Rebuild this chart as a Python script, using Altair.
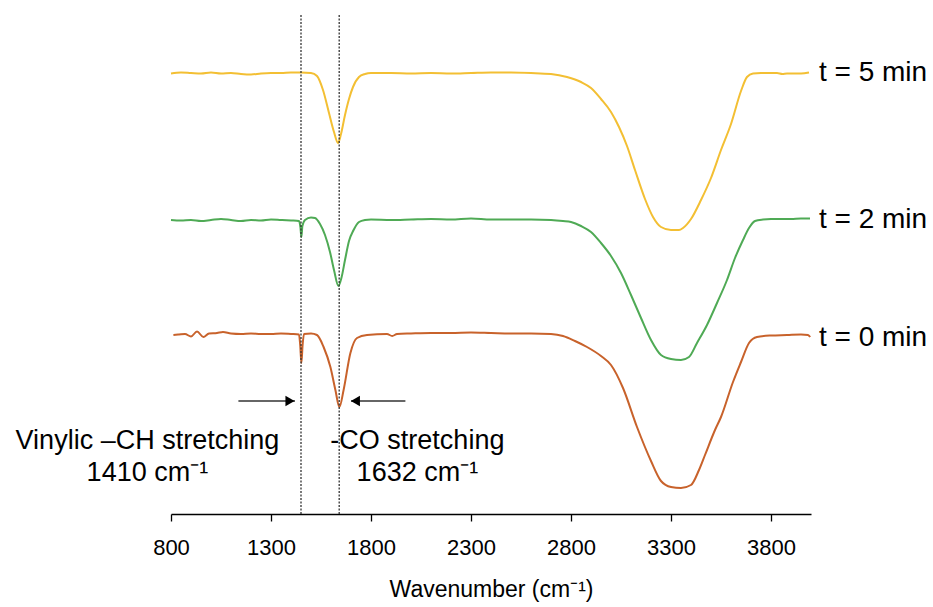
import altair as alt
import pandas as pd

# ---- data ----
wn_5 = [800, 850, 900, 950, 1000, 1050, 1100, 1150, 1200, 1250, 1300, 1350, 1400, 1450, 1500,
        1530, 1560, 1590, 1615, 1635, 1650, 1670, 1690, 1710, 1740, 1770, 1800, 1900, 2000, 2100,
        2200, 2300, 2400, 2500, 2600, 2700, 2780, 2850, 2900, 2950, 3000, 3040, 3080, 3120, 3170,
        3210, 3250, 3300, 3340, 3360, 3400, 3450, 3500, 3550, 3600, 3650, 3680, 3710, 3750, 3800,
        3830, 3857, 3880, 3950, 3990]
tr_5 = [88.1, 88.3, 88.2, 88.1, 88.3, 88.1, 88.2, 88.0, 87.9, 88.1, 88.2, 88.2, 88.3, 88.3, 88.2,
        87.6, 84.8, 80.2, 76.4, 74.2, 76.0, 79.8, 83.0, 85.4, 87.4, 88.0, 88.2, 88.2, 88.1, 88.2,
        88.1, 88.2, 88.3, 88.3, 88.2, 88.0, 87.4, 86.4, 85.2, 83.0, 80.4, 77.4, 73.6, 68.8, 63.0,
        59.4, 57.4, 56.8, 56.8, 57.2, 59.0, 62.8, 67.2, 72.8, 78.0, 84.6, 87.4, 88.1, 88.2, 88.2,
        88.2, 88.0, 88.1, 88.1, 88.3]

wn_2 = [800, 850, 900, 950, 1000, 1050, 1100, 1150, 1200, 1250, 1300, 1350, 1400, 1440, 1447,
        1452, 1457, 1470, 1500, 1520, 1545, 1570, 1595, 1615, 1637, 1652, 1670, 1690, 1713, 1740,
        1770, 1800, 1900, 2000, 2100, 2200, 2300, 2400, 2500, 2600, 2700, 2760, 2800, 2850, 2900,
        2950, 3000, 3050, 3100, 3150, 3200, 3250, 3300, 3350, 3390, 3430, 3480, 3530, 3580, 3620,
        3660, 3690, 3720, 3760, 3800, 3900, 3950, 3995]
tr_2 = [58.8, 58.7, 58.8, 58.6, 58.8, 59.0, 58.8, 58.6, 58.8, 58.7, 58.9, 58.8, 58.7, 58.6, 57.4,
        55.4, 57.6, 58.8, 59.3, 59.2, 58.0, 55.8, 52.4, 48.8, 45.6, 47.2, 50.8, 54.6, 56.8, 58.4,
        58.8, 58.9, 58.8, 58.9, 59.0, 58.9, 59.1, 58.9, 58.9, 58.9, 58.8, 58.6, 58.4, 57.6, 56.4,
        54.2, 51.6, 48.2, 43.8, 39.2, 34.8, 31.8, 31.0, 30.8, 31.4, 34.2, 37.8, 42.2, 46.8, 51.2,
        54.8, 57.2, 58.6, 58.9, 59.0, 59.0, 59.1, 59.1]

wn_0 = [812, 840, 870, 900, 930, 962, 990, 1030, 1060, 1100, 1150, 1200, 1250, 1300, 1350,
        1400, 1440, 1446, 1452, 1458, 1465, 1500, 1530, 1563, 1597, 1622, 1642, 1663, 1697, 1730,
        1780, 1880, 1906, 1930, 2000, 2100, 2200, 2300, 2400, 2500, 2600, 2700, 2760, 2820, 2880,
        2950, 3000, 3060, 3130, 3200, 3250, 3300, 3350, 3400, 3440, 3470, 3520, 3550, 3610, 3650,
        3690, 3730, 3800, 3880, 3950, 3985, 3996]
tr_0 = [35.8, 35.9, 36.0, 35.5, 36.5, 35.4, 36.1, 36.2, 36.4, 36.1, 36.0, 36.1, 36.0, 36.0, 36.1,
        36.0, 35.9, 33.8, 30.2, 33.8, 36.0, 36.1, 35.8, 33.4, 29.4, 24.8, 21.4, 24.8, 32.2, 35.2,
        35.8, 36.0, 35.6, 36.0, 36.1, 36.2, 36.2, 36.3, 36.2, 36.1, 36.1, 36.0, 35.6, 34.6, 33.4,
        31.6, 29.8, 25.2, 17.4, 10.6, 6.6, 5.4, 5.2, 5.8, 8.8, 11.8, 16.8, 19.4, 26.4, 30.4,
        34.2, 35.4, 35.7, 35.8, 35.9, 35.8, 35.4]

series_names = ["t = 5 min", "t = 2 min", "t = 0 min"]
series_colors = ["#F3BF33", "#4FAA55", "#C8622B"]
label_wn = [4040, 4040, 4040]
label_tr = [88.2, 58.8, 35.2]

x_ticks = [800, 1300, 1800, 2300, 2800, 3300, 3800]
marker_wn = [1450, 1641]

note_text = ["Vinylic \u2013CH stretching", "1410 cm\u207b\u00b9", "-CO stretching", "1632 cm\u207b\u00b9"]
note_wn = [682, 682, 2032, 2032]
note_tr = [14.6, 8.2, 14.6, 8.2]

arrow_start = [1137, 1972]
arrow_end = [1420, 1700]
arrow_tr = [22.6, 22.6]
arrow_head_wn = [1395, 1722]
arrow_shape = ["triangle-right", "triangle-left"]

# ---- tables ----
rows = []
for name, wn, tr in zip(series_names, [wn_5, wn_2, wn_0], [tr_5, tr_2, tr_0]):
    for a, b in zip(wn, tr):
        rows.append({"series": name, "wavenumber": a, "value": b})
spectra = pd.DataFrame(rows)
labels = pd.DataFrame({"series": series_names, "wavenumber": label_wn, "value": label_tr})
markers = pd.DataFrame({"wavenumber": marker_wn, "lo": [0, 0], "hi": [100, 100]})
notes = pd.DataFrame({"text": note_text, "wavenumber": note_wn, "value": note_tr})
arrows = pd.DataFrame({"wavenumber": arrow_start, "wavenumber2": arrow_end, "value": arrow_tr})
heads = pd.DataFrame({"wavenumber": arrow_head_wn, "value": arrow_tr, "shape": arrow_shape})

xs = alt.Scale(domain=[800, 4000], nice=False, zero=False)
ys = alt.Scale(domain=[0, 100], nice=False, zero=False)
x_axis = alt.Axis(
    values=x_ticks, format="d", title="Wavenumber (cm\u207b\u00b9)", grid=False,
    domainColor="#000000", domainWidth=1.3, tickColor="#000000", tickWidth=1.3, tickSize=7,
    labelFont="Liberation Sans", labelFontSize=22, labelColor="#000000", labelPadding=16,
    titleFont="Liberation Sans", titleFontSize=23, titleFontWeight="normal",
    titleColor="#000000", titlePadding=20, labelFlush=False)


def xenc(field="wavenumber:Q"):
    return alt.X(field, scale=xs, axis=x_axis, title="Wavenumber (cm\u207b\u00b9)")


def yenc(field="value:Q"):
    return alt.Y(field, scale=ys, axis=None)


color = alt.Color("series:N", scale=alt.Scale(domain=series_names, range=series_colors), legend=None)

lines = alt.Chart(spectra).mark_line(strokeWidth=2, interpolate="monotone").encode(
    x=xenc(), y=yenc(), color=color,
)

rules = alt.Chart(markers).mark_rule(color="#333333", strokeWidth=1.3, strokeDash=[2, 1.5]).encode(
    x=xenc(), y=yenc("lo:Q"), y2="hi:Q",
)

series_labels = alt.Chart(labels).mark_text(align="left", baseline="middle", font="Liberation Sans",
                                            fontSize=28, color="#000000").encode(
    x=xenc(), y=yenc(), text="series:N",
)

note_marks = alt.Chart(notes).mark_text(align="center", baseline="middle", font="Liberation Sans",
                                        fontSize=27, color="#000000").encode(
    x=xenc(), y=yenc(), text="text:N",
)

arrow_lines = alt.Chart(arrows).mark_rule(color="#333333", strokeWidth=1.3).encode(
    x=xenc(), x2="wavenumber2:Q", y=yenc(),
)

arrow_heads = alt.Chart(heads).mark_point(filled=True, color="#000000", size=110, opacity=1).encode(
    x=xenc(), y=yenc(),
    shape=alt.Shape("shape:N", scale=None, legend=None),
)

chart = alt.layer(lines, rules, series_labels, note_marks, arrow_lines, arrow_heads).properties(
    width=640, height=500,
    autosize=alt.AutoSizeParams(type="none"),
    padding={"left": 171, "top": 14, "right": 122, "bottom": 93},
    background="#ffffff",
).configure_view(stroke=None)

chart.save("out.html", embed_options={"renderer": "svg", "actions": False})
